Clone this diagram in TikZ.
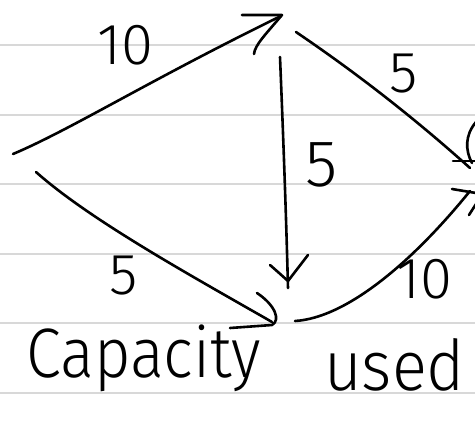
\documentclass[tikz,border=0pt]{standalone}
\usepackage{fontspec}
\setmainfont{Fira Sans Light}
\definecolor{rulegray}{RGB}{216,216,216}
\begin{document}
\begin{tikzpicture}[x=1pt,y=-1pt,
  pen/.style={line width=2.6pt, line cap=round, line join=round},
  rule/.style={line width=2pt, draw=rulegray},
  lbl/.style={inner sep=0pt, font=\fontsize{58}{58}\selectfont},
  word/.style={inner sep=0pt, font=\fontsize{70}{70}\selectfont}]
\useasboundingbox (0,0) rectangle (475,421);
\fill[white] (0,0) rectangle (475,421);
\foreach \y in {45,115,184,254,323,393} \draw[rule] (0,\y) -- (475,\y);
% end points of the connectors
\coordinate (s1) at (13,154);
\coordinate (s2) at (36,172);
\coordinate (a1) at (281,16);
\coordinate (a2) at (296,32);
\coordinate (a3) at (280,57);
\coordinate (b1) at (272,322);
\coordinate (b2) at (288,288);
\coordinate (b3) at (295,321);
\coordinate (t1) at (470,168);
\coordinate (t2) at (470,191);
% connectors
\draw[pen] (s1) .. controls (70,130) and (150,80) .. (a1);
\draw[pen] (a2) .. controls (355,72) and (412,116) .. (t1);
\draw[pen] (a3) .. controls (283,130) and (286,210) .. (b2);
\draw[pen] (s2) .. controls (90,220) and (190,275) .. (b1);
\draw[pen] (b3) .. controls (345,318) and (410,265) .. (t2);
% hand-drawn arrow heads
\draw[pen] (242,15) -- (282,15) .. controls (265,35) and (255,45) .. (254,54);
\draw[pen] (270,265) .. controls (278,272) .. (288,281) .. controls (298,268) .. (308,255);
\draw[pen] (257,293) .. controls (275,305) and (281,320) .. (272,325) -- (230,328);
\draw[pen] (453,161) -- (476,161);
\draw[pen] (476,122) .. controls (465,135) and (465,150) .. (472,163);
\draw[pen] (452,189) -- (476,193);
\draw[pen] (469,215) -- (476,204);
% labels
\node[lbl] (l1) at (125,45) {10};
\node[lbl] (l2) at (404,74) {5};
\node[lbl, font=\fontsize{66}{66}\selectfont] (l3) at (322,165) {5};
\node[lbl] (l4) at (124,276) {5};
\node[lbl] (l5) at (424,279) {10};
\node[word, anchor=base west, xscale=0.9] (w1) at (26,377) {Capacity};
\node[word, anchor=base west, xscale=0.93] (w2) at (324,390) {used};
\end{tikzpicture}
\end{document}
